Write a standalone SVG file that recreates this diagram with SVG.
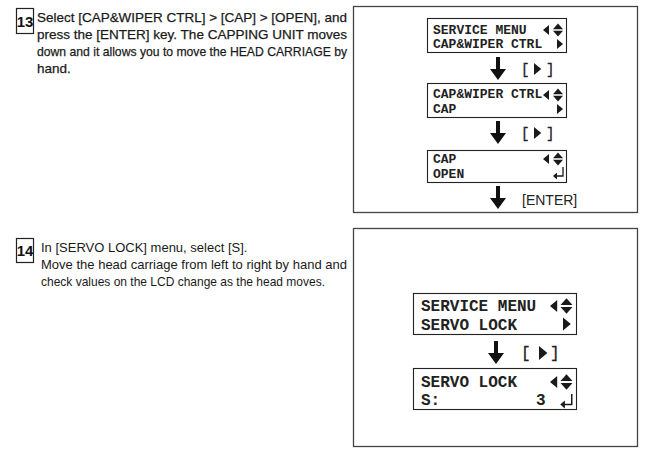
<svg xmlns="http://www.w3.org/2000/svg" width="650" height="451" viewBox="0 0 650 451">
<style>
.para{font-family:"Liberation Sans",Arial,sans-serif;font-size:13px;fill:#1a1a1a}
.p13{font-size:13.5px;stroke:#1a1a1a;stroke-width:0.25}
.num{font-family:"Liberation Sans",Arial,sans-serif;font-size:15px;font-weight:bold;fill:#111}
.numbox{fill:#fff;stroke:#222;stroke-width:1.2}
.frame{fill:#fff;stroke:#444;stroke-width:1.3}
.lcd{fill:#fff;stroke:#222;stroke-width:1.1}
.lcd1{font-family:"Liberation Mono","Courier New",monospace;font-size:13px;font-weight:bold;fill:#222}
.lcd2{font-family:"Liberation Mono","Courier New",monospace;font-size:16px;font-weight:bold;fill:#222}
.br{font-family:"Liberation Mono","Courier New",monospace;font-size:14px;fill:#222;stroke:#222;stroke-width:0.3}
.br2{font-family:"Liberation Mono","Courier New",monospace;font-size:16px;fill:#222;stroke:#222;stroke-width:0.3}
.key{font-family:"Liberation Sans",Arial,sans-serif;font-size:14px;fill:#222}
</style>
<defs>
<path id="arrow" d="M-2,0 h4 v12 h6 l-8,11 l-8,-11 h6 z" fill="#111"/>
<polygon id="lt" points="0,0 6,-5 6,5" fill="#1a1a1a"/>
<g id="ud" fill="#1a1a1a"><polygon points="0,-6.5 5,-0.8 -5,-0.8"/><polygon points="0,6.5 5,0.8 -5,0.8"/></g>
<polygon id="rt" points="0,-5 6,0 0,5" fill="#1a1a1a"/>
<g id="ret"><path d="M5,-6 V3 H-1.5" fill="none" stroke="#1a1a1a" stroke-width="1.3"/><polygon points="-5,3 -1,-0.5 -1,6.5" fill="#1a1a1a"/></g>
</defs>

<g id="step13">
<rect class="numbox" x="16.5" y="8.5" width="17" height="25"/>
<text class="num" x="25" y="26.5" text-anchor="middle">13</text>
<text class="para p13" x="37" y="22" textLength="310" lengthAdjust="spacingAndGlyphs">Select [CAP&amp;WIPER CTRL] &gt; [CAP] &gt; [OPEN], and</text>
<text class="para p13" x="37" y="39" textLength="310" lengthAdjust="spacingAndGlyphs">press the [ENTER] key. The CAPPING UNIT moves</text>
<text class="para p13" x="37" y="56" textLength="310" lengthAdjust="spacingAndGlyphs">down and it allows you to move the HEAD CARRIAGE by</text>
<text class="para p13" x="37" y="73">hand.</text>
</g>

<g id="step14">
<rect class="numbox" x="16.5" y="238.5" width="17" height="24"/>
<text class="num" x="25" y="256" text-anchor="middle">14</text>
<text class="para" x="41" y="252">In [SERVO LOCK] menu, select [S].</text>
<text class="para" x="41" y="269" textLength="306" lengthAdjust="spacingAndGlyphs">Move the head carriage from left to right by hand and</text>
<text class="para" x="41" y="286" textLength="284" lengthAdjust="spacingAndGlyphs">check values on the LCD change as the head moves.</text>
</g>

<rect id="frame13" class="frame" x="353.5" y="6.5" width="284" height="206"/>
<rect id="frame14" class="frame" x="353.5" y="228.5" width="284" height="218"/>

<g id="lcd-service-menu-cap">
<rect class="lcd" x="427.5" y="18.5" width="139" height="34"/>
<text class="lcd1" x="433" y="34">SERVICE MENU</text>
<text class="lcd1" x="433" y="48">CAP&amp;WIPER CTRL</text>
<use href="#lt" x="543" y="30"/>
<use href="#ud" x="558" y="30"/>
<use href="#rt" x="557" y="44"/>
</g>

<g id="lcd-cap-wiper">
<rect class="lcd" x="427.5" y="83.5" width="139" height="34"/>
<text class="lcd1" x="433" y="98">CAP&amp;WIPER CTRL</text>
<text class="lcd1" x="433" y="113">CAP</text>
<use href="#lt" x="543" y="95"/>
<use href="#ud" x="558" y="95"/>
<use href="#rt" x="557" y="109"/>
</g>

<g id="lcd-cap-open">
<rect class="lcd" x="427.5" y="150.5" width="139" height="32"/>
<text class="lcd1" x="433" y="163">CAP</text>
<text class="lcd1" x="433" y="178">OPEN</text>
<use href="#lt" x="543" y="159"/>
<use href="#ud" x="558" y="159"/>
<use href="#ret" x="558" y="173"/>
</g>

<g id="lcd-service-menu-servo">
<rect class="lcd" x="413.5" y="293.5" width="163" height="41"/>
<text class="lcd2" x="421" y="311">SERVICE MENU</text>
<text class="lcd2" x="421" y="330">SERVO LOCK</text>
<use href="#lt" x="550" y="306" transform="translate(550 306) scale(1.2) translate(-550 -306)"/>
<use href="#ud" x="566.5" y="306" transform="translate(566.5 306) scale(1.2) translate(-566.5 -306)"/>
<use href="#rt" x="563" y="324" transform="translate(563 324) scale(1.3) translate(-563 -324)"/>
</g>

<g id="lcd-servo-lock">
<rect class="lcd" x="413.5" y="368.5" width="163" height="41"/>
<text class="lcd2" x="421" y="387">SERVO LOCK</text>
<text class="lcd2" x="421" y="405">S:</text>
<text class="lcd2" x="536" y="405">3</text>
<use href="#lt" x="550" y="382" transform="translate(550 382) scale(1.2) translate(-550 -382)"/>
<use href="#ud" x="566.5" y="382" transform="translate(566.5 382) scale(1.2) translate(-566.5 -382)"/>
<use href="#ret" x="566" y="401" transform="translate(566 401) scale(1.15) translate(-566 -401)"/>
</g>

<g id="connectors">
<use href="#arrow" x="498" y="57"/>
<text class="br" x="521" y="74">[</text>
<use href="#rt" x="534" y="69" transform="translate(534 69) scale(1.2) translate(-534 -69)"/>
<text class="br" x="546" y="74">]</text>

<use href="#arrow" x="498" y="121"/>
<text class="br" x="521" y="138">[</text>
<use href="#rt" x="534" y="133" transform="translate(534 133) scale(1.2) translate(-534 -133)"/>
<text class="br" x="546" y="138">]</text>

<use href="#arrow" x="498" y="186"/>
<text class="key" x="522" y="205">[ENTER]</text>

<use href="#arrow" x="496" y="341"/>
<text class="br2" x="521" y="358">[</text>
<use href="#rt" x="539" y="353" transform="translate(539 353) scale(1.4) translate(-539 -353)"/>
<text class="br2" x="550" y="358">]</text>
</g>
</svg>
